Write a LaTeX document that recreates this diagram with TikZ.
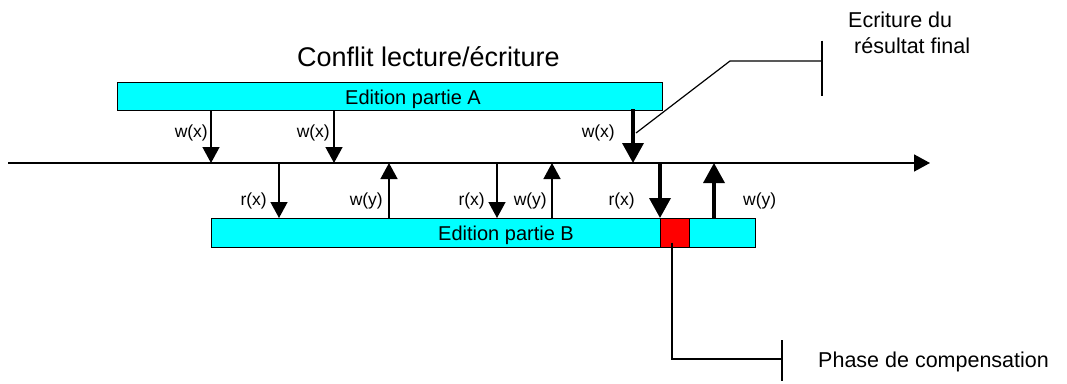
\documentclass[tikz,border=0pt]{standalone}
\usepackage{fontspec}
\setmainfont{Liberation Sans}
\usetikzlibrary{arrows.meta}
\definecolor{boxcyan}{HTML}{00FFFF}
\definecolor{boxred}{HTML}{FF0000}
\begin{document}
\begin{tikzpicture}[x=1pt,y=-1pt,
  phase/.style={draw=black,line width=1.3pt,inner sep=0pt,anchor=north west},
  thinarr/.style={line width=1.4pt,-{Triangle[length=16pt,width=17pt]}},
  thickarr/.style={line width=3.6pt,-{Triangle[length=20pt,width=21pt]}},
  lbl/.style={inner sep=0pt,font=\fontsize{17.5}{20}\selectfont},
  txt/.style={inner sep=0pt,anchor=base west},
  callout/.style={line width=1.2pt}]
\useasboundingbox (0,0) rectangle (1067,383);
% axis
\coordinate (axs) at (8,163);
\coordinate (axe) at (930,163);
\draw[line width=1.6pt,-{Triangle[length=16pt,width=17pt]}] (axs) -- (axe);
% boxes
\node[phase,fill=boxcyan,minimum width=545pt,minimum height=28pt] (A) at (117,82) {};
\node[phase,fill=boxcyan,minimum width=544pt,minimum height=29pt] (B) at (211,218) {};
\node[phase,fill=boxred,minimum width=29pt,minimum height=29pt] (R) at (660,218) {};
\node[txt,font=\fontsize{20}{24}\selectfont] (tA) at (345,104) {Edition partie A};
\node[txt,font=\fontsize{20}{24}\selectfont] (tB) at (438,240) {Edition partie B};
\node[txt,font=\fontsize{27}{32}\selectfont] (title) at (297,66.5) {Conflit lecture/écriture};
% coordinates on axis and boxes
\coordinate (a1) at (211,110); \coordinate (x1) at (211,163);
\coordinate (a2) at (334,110); \coordinate (x2) at (334,163);
\coordinate (a3) at (633,109); \coordinate (x3) at (633,163);
\coordinate (x4) at (279,163); \coordinate (b4) at (279,218);
\coordinate (x5) at (389,163); \coordinate (b5) at (389,218);
\coordinate (x6) at (497,163); \coordinate (b6) at (497,218);
\coordinate (x7) at (552,163); \coordinate (b7) at (552,218);
\coordinate (x8) at (660,163); \coordinate (b8) at (660,218);
\coordinate (x9) at (714,163); \coordinate (b9) at (714,218);
% arrows from A
\draw[thinarr] (a1) -- (x1);
\draw[thinarr] (a2) -- (x2);
\draw[thickarr] (a3) -- (x3);
\node[lbl,anchor=east] (l1) at (208,132.5) {w(x)};
\node[lbl,anchor=east] (l2) at (330,132.5) {w(x)};
\node[lbl,anchor=east] (l3) at (615,132.5) {w(x)};
% arrows with B
\draw[thinarr] (x4) -- (b4);
\draw[thinarr] (b5) -- (x5);
\draw[thinarr] (x6) -- (b6);
\draw[thinarr] (b7) -- (x7);
\draw[thickarr] (x8) -- (b8);
\draw[thickarr] (b9) -- (x9);
\node[lbl,anchor=east] (l4) at (267,201) {r(x)};
\node[lbl,anchor=east] (l5) at (383,201) {w(y)};
\node[lbl,anchor=east] (l6) at (485,201) {r(x)};
\node[lbl,anchor=east] (l7) at (547,201) {w(y)};
\node[lbl,anchor=east] (l8) at (635,201) {r(x)};
\node[lbl,anchor=west] (l9) at (743,201) {w(y)};
% callout: final result
\coordinate (c1) at (636,133);
\coordinate (c2) at (730,61);
\coordinate (c3) at (822,61);
\coordinate (c3t) at (822,40.5);
\coordinate (c3b) at (822,96);
\draw[callout] (c1) -- (c2) -- (c3);
\draw[callout] (c3t) -- (c3b);
\node[txt,font=\fontsize{21.5}{26}\selectfont] (e1) at (848,27) {Ecriture du};
\node[txt,font=\fontsize{21.5}{26}\selectfont] (e2) at (854,53) {résultat final};
% callout: compensation
\coordinate (d1) at (672,242.5);
\coordinate (d2) at (672,359);
\coordinate (d3) at (782,359);
\coordinate (d3t) at (782,340);
\coordinate (d3b) at (782,381);
\draw[callout] (d1) -- (d2) -- (d3);
\draw[callout] (d3t) -- (d3b);
\node[txt,font=\fontsize{21.5}{26}\selectfont] (p1) at (818,367) {Phase de compensation};
\end{tikzpicture}
\end{document}
